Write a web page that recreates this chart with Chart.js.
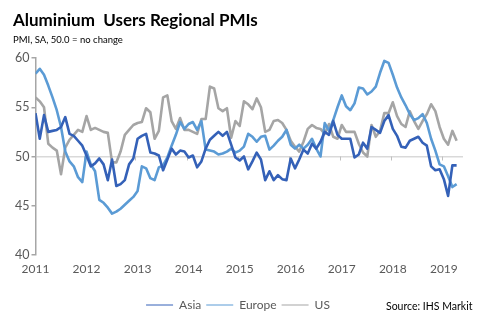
<!DOCTYPE html>
<html lang="en">
<head>
  <meta charset="UTF-8" />
  <title>Aluminium Users Regional PMIs</title>
  <script src="https://cdn.jsdelivr.net/npm/chart.js"></script>
  <style>
    body {
      margin: 0;
      background: #fff;
      font-family: Lato, "Open Sans", sans-serif;
    }
    .wrap {
      position: relative;
      width: 479px;
      height: 334px;
    }
    .wrap canvas {
      position: absolute;
      left: 0;
      top: 0;
    }
    h1 {
      position: absolute;
      left: 13px;
      top: 9px;
      margin: 0;
      font-size: 17px;
      font-weight: bold;
      color: #000;
      white-space: nowrap;
    }
    .sub {
      position: absolute;
      left: 13px;
      top: 34px;
      font-size: 9.5px;
      color: #000;
    }
    .source {
      position: absolute;
      left: 386px;
      top: 300px;
      font-size: 10.5px;
      color: #000;
    }
  </style>
</head>
<body>
  <div class="wrap">
    <canvas id="pmi" width="479" height="334"></canvas>
    <h1>Aluminium&nbsp; Users Regional PMIs</h1>
    <div class="sub">PMI, SA, 50.0 = no change</div>
    <div class="source">Source: IHS Markit</div>
  </div>

  <script>
    // monthly readings, Jan 2011 .. Apr 2019
    const years = ['2011', '2012', '2013', '2014', '2015', '2016', '2017', '2018', '2019'];

    const asia = [
      54.4, 51.8, 54.2, 52.5, 52.6, 52.7, 53.0, 54.0, 52.3, 52.1, 51.6, 51.1,
      50.1, 49.0, 49.3, 49.8, 49.2, 47.6, 49.7, 47.0, 47.2, 47.6, 49.2, 49.8,
      51.8, 52.1, 52.3, 50.4, 50.3, 50.1, 48.6, 49.7, 50.8, 50.2, 50.6, 50.5,
      49.9, 50.1, 48.9, 49.5, 50.8, 51.7, 52.1, 52.5, 52.1, 52.5, 51.2, 49.9,
      49.6, 50.0, 48.7, 49.5, 50.4, 49.7, 47.6, 48.5, 47.6, 48.1, 47.7, 47.6,
      49.8, 48.8, 49.7, 50.7, 50.3, 51.3, 50.8, 51.5, 52.5, 52.2, 53.6, 52.2,
      51.8, 51.8, 51.8, 49.9, 50.2, 51.4, 50.8, 53.0, 52.7, 52.4, 53.6, 54.2,
      52.8, 52.1, 51.0, 50.9, 51.6, 51.8, 52.0, 51.4, 51.1, 49.0, 48.6, 48.7,
      47.7, 46.0, 49.1, 49.1
    ];

    const europe = [
      58.4, 58.9, 58.3, 57.2, 56.0, 54.7, 53.0, 50.5, 49.5, 49.0, 47.9, 47.4,
      50.5, 49.2, 48.5, 45.6, 45.3, 44.8, 44.2, 44.4, 44.7, 45.1, 45.5, 45.9,
      46.5, 49.0, 48.8, 47.8, 47.6, 48.9, 49.1, 49.9, 51.1, 52.2, 53.5, 52.8,
      53.3, 53.5, 52.7, 53.6, 50.7, 50.6, 50.5, 50.2, 50.3, 50.5, 50.8, 50.4,
      50.6, 51.0, 52.3, 52.0, 51.5, 52.0, 52.1, 50.7, 51.1, 51.6, 52.0, 52.7,
      51.2, 50.8, 51.2, 50.8, 51.2, 51.8, 50.8, 50.0, 53.4, 52.6, 53.7, 55.0,
      56.2, 55.1, 54.7, 55.4, 57.0, 56.9, 56.3, 56.6, 57.1, 58.5, 59.7, 59.5,
      58.3, 57.0, 56.0, 55.2, 54.3, 53.7, 53.9, 54.3, 53.4, 51.8, 50.6, 49.2,
      49.0, 48.0, 46.9, 47.2
    ];

    const us = [
      56.0, 55.6, 55.0, 51.3, 50.9, 50.6, 48.2, 50.9, 51.7, 52.2, 52.7, 52.5,
      54.1, 52.7, 52.9, 52.7, 52.5, 52.4, 49.4, 49.4, 50.5, 52.2, 52.7, 53.2,
      53.4, 53.5, 54.9, 54.5, 51.8, 52.6, 56.0, 56.2, 53.6, 52.8, 53.9, 52.7,
      52.7, 52.5, 52.3, 53.8, 53.8, 57.1, 56.9, 54.9, 54.6, 54.9, 51.9, 53.6,
      53.1, 55.6, 55.3, 54.8, 55.9, 55.0, 52.5, 52.7, 53.6, 53.7, 53.4, 52.7,
      51.6, 51.0, 50.5, 51.5, 52.8, 53.2, 52.9, 52.8, 52.3, 53.3, 52.0, 51.8,
      53.2, 52.5, 52.5, 52.5, 51.3, 50.4, 50.0, 53.2, 52.0, 52.6, 54.4, 54.4,
      55.5, 54.1, 53.3, 53.0, 54.6, 53.6, 52.8, 53.6, 54.3, 55.3, 54.6, 53.0,
      51.8, 51.2, 52.6, 51.6
    ];

    const axisGrey = '#a6a6a6';
    const textGrey = '#595959';

    const toPoints = arr => arr.map((v, i) => ({ x: i, y: v }));

    // small ticks hanging off the 50 line between years
    const midTicks = {
      id: 'midTicks',
      beforeDatasetsDraw(chart) {
        const { ctx, scales: { x, y } } = chart;
        const y50 = y.getPixelForValue(50);
        ctx.save();
        ctx.strokeStyle = '#bfbfbf';
        ctx.lineWidth = 1;
        for (let i = 1; i < years.length; i++) {
          const px = Math.round(x.getPixelForValue(i * 12 - 0.5)) + 0.5;
          ctx.beginPath();
          ctx.moveTo(px, y50);
          ctx.lineTo(px, y50 + 4);
          ctx.stroke();
        }
        ctx.restore();
      }
    };

    new Chart(document.getElementById('pmi'), {
      type: 'line',
      data: {
        datasets: [
          { label: 'Asia', data: toPoints(asia), borderColor: '#3461b8', backgroundColor: '#3461b8' },
          { label: 'Europe', data: toPoints(europe), borderColor: '#5b9bd5', backgroundColor: '#5b9bd5' },
          { label: 'US', data: toPoints(us), borderColor: '#a5a5a5', backgroundColor: '#a5a5a5' }
        ]
      },
      options: {
        responsive: false,
        animation: false,
        layout: { padding: { top: 58, left: 13, right: 16, bottom: 13 } },
        elements: {
          line: { borderWidth: 2.6, tension: 0, borderJoinStyle: 'round' },
          point: { radius: 0 }
        },
        scales: {
          x: {
            type: 'linear',
            min: 0,
            max: 100.5,
            afterBuildTicks(scale) {
              scale.ticks = years.map((_, i) => ({ value: i * 12 }));
            },
            afterFit(scale) {
              scale.height = 39;
            },
            ticks: {
              autoSkip: false,
              maxRotation: 0,
              padding: 7,
              color: textGrey,
              font: { family: 'Lato', size: 12 },
              callback: v => years[v / 12]
            },
            grid: { display: false, drawTicks: false },
            border: { display: false }
          },
          y: {
            min: 40,
            max: 60,
            ticks: {
              stepSize: 5,
              padding: 2,
              color: textGrey,
              font: { family: 'Lato', size: 12.5 }
            },
            grid: {
              color: ctx => (ctx.tick && ctx.tick.value === 50 ? '#d9d9d9' : 'transparent'),
              lineWidth: 1.5,
              tickColor: axisGrey,
              tickLength: 4
            },
            border: { display: true, color: axisGrey, width: 1.5 }
          }
        },
        plugins: {
          legend: {
            position: 'bottom',
            labels: {
              usePointStyle: true,
              pointStyle: 'line',
              pointStyleWidth: 27,
              padding: 5,
              color: textGrey,
              font: { family: 'Lato', size: 12 }
            }
          },
          tooltip: { enabled: false }
        }
      },
      plugins: [midTicks]
    });
  </script>
</body>
</html>
